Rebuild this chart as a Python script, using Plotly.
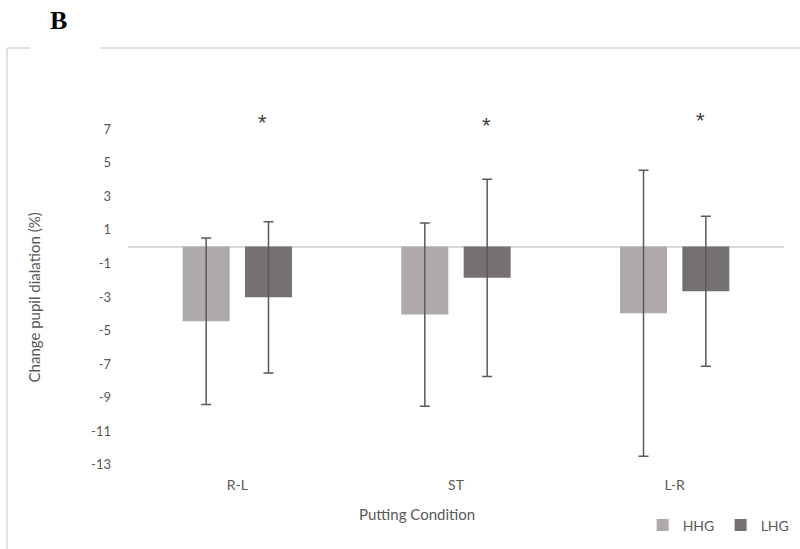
import plotly.graph_objects as go

categories = ["R-L", "ST", "L-R"]
hhg_mean = [-4.45, -4.05, -3.97]
hhg_sd = [4.96, 5.45, 8.52]
lhg_mean = [-3.02, -1.86, -2.66]
lhg_sd = [4.50, 5.87, 4.47]
star_y = [7.4, 7.2, 7.5]
star_shift = [25, 30, 26]
y_ticks = [7, 5, 3, 1, -1, -3, -5, -7, -9, -11, -13]

FONT = "Lato"
TXT = "#595959"
ERR = "#5a5a5a"

fig = go.Figure()
fig.add_trace(go.Bar(
    name="HHG", x=categories, y=hhg_mean,
    marker=dict(color="#AEAAAA", line=dict(width=0)),
    width=0.215, offset=-0.25,
    error_y=dict(type="data", array=hhg_sd, visible=True, color=ERR, thickness=1.5, width=5),
))
fig.add_trace(go.Bar(
    name="LHG", x=categories, y=lhg_mean,
    marker=dict(color="#767171", line=dict(width=0)),
    width=0.215, offset=0.035,
    error_y=dict(type="data", array=lhg_sd, visible=True, color=ERR, thickness=1.5, width=5),
))

annotations = []
for c, sy, sh in zip(categories, star_y, star_shift):
    annotations.append(dict(x=c, y=sy, xref="x", yref="y", text="*", showarrow=False,
                            xshift=sh, font=dict(family="Liberation Sans", size=22, color="#404040"),
                            yanchor="middle"))
annotations.append(dict(x=0.4413, y=-0.1005, xref="paper", yref="paper", text="Putting Condition",
                        showarrow=False, font=dict(family=FONT, size=15, color=TXT),
                        xanchor="center", yanchor="middle"))
annotations.append(dict(x=-0.1418, y=0.4575, xref="paper", yref="paper",
                        text="Change pupil dialation (%)", textangle=-90,
                        showarrow=False, font=dict(family=FONT, size=15, color=TXT),
                        xanchor="center", yanchor="middle"))
annotations.append(dict(x=-0.106, y=1.1714, xref="paper", yref="paper", text="<b>B</b>",
                        showarrow=False, font=dict(family="Liberation Serif", size=26, color="black"),
                        xanchor="center", yanchor="middle"))

border = dict(color="#D9D9D9", width=1.5)
shapes = [
    dict(type="line", xref="paper", yref="paper", x0=-0.18445, x1=-0.1494, y0=1.1005, y1=1.1005, line=border),
    dict(type="line", xref="paper", yref="paper", x0=-0.04116, x1=1.03, y0=1.1005, y1=1.1005, line=border),
    dict(type="line", xref="paper", yref="paper", x0=-0.18445, x1=-0.18445, y0=1.1005, y1=-0.2, line=border),
]

fig.update_layout(
    width=800, height=549,
    margin=dict(l=128, r=16, t=87, b=74, autoexpand=False),
    paper_bgcolor="white", plot_bgcolor="white",
    barmode="group",
    showlegend=True,
    legend=dict(orientation="h", x=0.7845, y=-0.13, xanchor="left", yanchor="middle",
                font=dict(family=FONT, size=14, color=TXT), entrywidth=33,
                bgcolor="rgba(0,0,0,0)", itemclick=False),
    xaxis=dict(showgrid=False, showline=False, zeroline=False, ticks="",
               tickfont=dict(family=FONT, size=14, color=TXT)),
    yaxis=dict(range=[-13.6, 9.5], tickvals=y_ticks, ticktext=[str(v) for v in y_ticks],
               showgrid=False, showline=False, zeroline=True, zerolinecolor="#D9D9D9",
               zerolinewidth=1.5, ticks="", ticklabelstandoff=16,
               tickfont=dict(family=FONT, size=13, color=TXT)),
    annotations=annotations,
    shapes=shapes,
)

fig.write_html("out.html", config={"displayModeBar": False},
               post_script="document.body.style.margin='0';")
